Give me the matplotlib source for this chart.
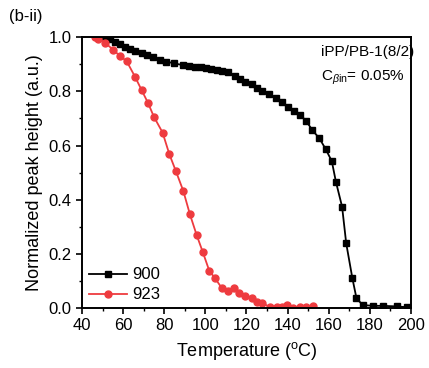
import numpy as np
import matplotlib.pyplot as plt

# sample 900 (black squares)
t900 = [48, 51, 53.5, 56, 58.5, 61, 63.5, 66, 69, 71.5, 74.5, 78, 81, 85, 89,
        92, 95, 98, 100.5, 103, 105.5, 108, 111, 114.5, 117, 119.5, 122.5, 125,
        127.5, 131, 134.5, 137.5, 140, 143, 146, 149, 152, 155.5, 158.5, 161.5,
        163.5, 166.5, 168.5, 171.5, 173.5, 176.5, 181.5, 186.5, 193, 198]
h900 = [1.0, 1.0, 0.995, 0.983, 0.974, 0.964, 0.957, 0.949, 0.942, 0.934, 0.925,
        0.915, 0.910, 0.903, 0.897, 0.894, 0.891, 0.889, 0.886, 0.882, 0.878,
        0.875, 0.870, 0.855, 0.844, 0.835, 0.826, 0.814, 0.802, 0.790, 0.774,
        0.760, 0.744, 0.729, 0.713, 0.691, 0.657, 0.626, 0.587, 0.542, 0.466,
        0.374, 0.239, 0.110, 0.036, 0.011, 0.008, 0.008, 0.006, 0.003]

# sample 923 (red circles)
t923 = [46.5, 48, 51.2, 55.2, 58.5, 61.7, 65.8, 69, 72.2, 75, 79.2, 82.5, 85.6,
        89.3, 92.5, 95.8, 98.7, 101.9, 104.7, 107.9, 111, 113.9, 116.5, 119.3,
        122.5, 125.3, 127.4, 131.4, 134.7, 137.1, 139.6, 142.8, 145.8, 149, 152.2]
h923 = [1.0, 0.995, 0.979, 0.954, 0.930, 0.912, 0.854, 0.805, 0.756, 0.706,
        0.648, 0.568, 0.507, 0.432, 0.346, 0.269, 0.208, 0.138, 0.110, 0.075,
        0.064, 0.075, 0.054, 0.045, 0.036, 0.022, 0.020, 0.003, 0.003, 0.005,
        0.011, 0.001, 0.003, 0.005, 0.008]

plt.rcParams['font.family'] = ['Liberation Sans', 'DejaVu Sans']
plt.rcParams['mathtext.fontset'] = 'custom'
plt.rcParams['mathtext.rm'] = 'Liberation Sans'
plt.rcParams['mathtext.it'] = 'Liberation Sans:italic'

fig = plt.figure(figsize=(4.29, 3.68), dpi=100)
ax = fig.add_axes([0.191, 0.163, 0.767, 0.736])

ax.plot(t900, h900, color='black', marker='s', markersize=4.5, lw=1.3, label='900')
ax.plot(t923, h923, color='#ee3b3f', marker='o', markersize=5, lw=1.3, label='923')

ax.set_xlim(40, 200)
ax.set_ylim(0, 1.0)
ax.set_xticks(np.arange(40, 201, 20))
ax.set_xticks(np.arange(50, 200, 20), minor=True)
ax.set_yticks(np.arange(0, 1.01, 0.2))
ax.set_yticks(np.arange(0.1, 1.0, 0.2), minor=True)
ax.tick_params(which='major', direction='out', length=4, width=1.2, labelsize=12)
ax.tick_params(which='minor', direction='out', length=2.5, width=1.0)
for s in ax.spines.values():
    s.set_linewidth(1.4)

ax.set_xlabel('Temperature ($^{\\mathrm{o}}$C)', fontsize=13, labelpad=5)
ax.set_ylabel('Normalized peak height (a.u.)', fontsize=13, labelpad=4)

ax.legend(loc='lower left', bbox_to_anchor=(-0.025, -0.035), frameon=False,
          fontsize=12, handlelength=2.3, labelspacing=0.3, handletextpad=0.3)

ax.text(0.726, 0.97, 'iPP/PB-1(8/2)', transform=ax.transAxes, ha='left', va='top', fontsize=11)
ax.text(0.726, 0.885, 'C$_{\\beta\\mathrm{in}}$= 0.05%', transform=ax.transAxes,
        ha='left', va='top', fontsize=11)

fig.text(0.02, 0.955, '(b-ii)', fontsize=12, ha='left', va='center')

fig.savefig('out.png', dpi=100)
